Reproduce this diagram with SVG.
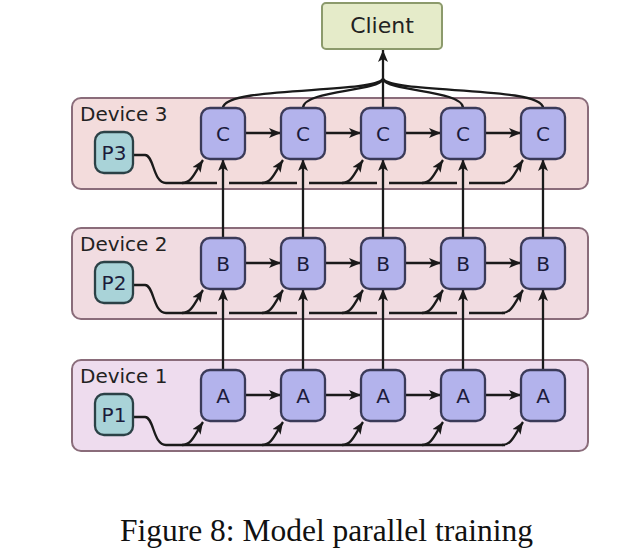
<svg xmlns="http://www.w3.org/2000/svg" width="640" height="556" viewBox="0 0 640 556">
<defs>
<marker id="ah" markerUnits="userSpaceOnUse" markerWidth="14" markerHeight="12" refX="12" refY="5" orient="auto">
<path d="M0,0 L12,5 L0,10 L3,5 z" fill="#1a1a1a"/>
</marker>
<style>
.panel{stroke:#8a6c7a;stroke-width:2}
.node rect{fill:#b3b3ec;stroke:#3a3a58;stroke-width:2.3}
.p rect{fill:#a9d3d8;stroke:#2b4146;stroke-width:2.3}
.lbl{font-family:"DejaVu Sans",sans-serif;font-size:20px;fill:#222}
.nt{font-family:"DejaVu Sans",sans-serif;font-size:20px;fill:#1c1c3c;text-anchor:middle}
.ln{fill:none;stroke:#1a1a1a;stroke-width:2.3}
.arr{fill:none;stroke:#1a1a1a;stroke-width:2.3;marker-end:url(#ah)}
</style>
</defs>
<rect width="640" height="556" fill="#ffffff"/>

<!-- panels -->
<g id="device3"><rect class="panel" x="72" y="98" width="516" height="91" rx="9" fill="#f3dcdc"/><text class="lbl" x="80" y="121">Device 3</text></g>
<g id="device2"><rect class="panel" x="72" y="228" width="516" height="91" rx="9" fill="#f1dce1"/><text class="lbl" x="80" y="251">Device 2</text></g>
<g id="device1"><rect class="panel" x="72" y="360" width="516" height="91" rx="9" fill="#eedcee"/><text class="lbl" x="80" y="383">Device 1</text></g>

<g id="connectors">
<!-- client fan-in -->
<path class="ln" d="M223 108 C223 86,372 94,383 79"/>
<path class="ln" d="M303 108 C303 90,378 92,383 79"/>
<path class="ln" d="M463 108 C463 90,388 92,383 79"/>
<path class="ln" d="M543 108 C543 86,394 94,383 79"/>
<path class="arr" d="M383 108 L383 50"/>

<!-- device 3 horizontal -->
<path class="arr" d="M245 133 L281 133"/>
<path class="arr" d="M325 133 L361 133"/>
<path class="arr" d="M405 133 L441 133"/>
<path class="arr" d="M485 133 L521 133"/>
<!-- device 2 horizontal -->
<path class="arr" d="M245 263 L281 263"/>
<path class="arr" d="M325 263 L361 263"/>
<path class="arr" d="M405 263 L441 263"/>
<path class="arr" d="M485 263 L521 263"/>
<!-- device 1 horizontal -->
<path class="arr" d="M245 395 L281 395"/>
<path class="arr" d="M325 395 L361 395"/>
<path class="arr" d="M405 395 L441 395"/>
<path class="arr" d="M485 395 L521 395"/>

<!-- device 3 param bus -->
<path class="ln" d="M133 155 L145 155 C154 155,153 183,166 183 L505 183"/>
<path class="arr" d="M182 183 C192 183,195 172,203 160"/>
<path class="arr" d="M262 183 C272 183,275 172,283 160"/>
<path class="arr" d="M342 183 C352 183,355 172,363 160"/>
<path class="arr" d="M422 183 C432 183,435 172,443 160"/>
<path class="arr" d="M502 183 C512 183,515 172,523 160"/>
<!-- device 2 param bus -->
<path class="ln" d="M133 285 L145 285 C154 285,153 313,166 313 L505 313"/>
<path class="arr" d="M182 313 C192 313,195 302,203 290"/>
<path class="arr" d="M262 313 C272 313,275 302,283 290"/>
<path class="arr" d="M342 313 C352 313,355 302,363 290"/>
<path class="arr" d="M422 313 C432 313,435 302,443 290"/>
<path class="arr" d="M502 313 C512 313,515 302,523 290"/>
<!-- device 1 param bus -->
<path class="ln" d="M133 417 L145 417 C154 417,153 445,166 445 L505 445"/>
<path class="arr" d="M182 445 C192 445,195 434,203 422"/>
<path class="arr" d="M262 445 C272 445,275 434,283 422"/>
<path class="arr" d="M342 445 C352 445,355 434,363 422"/>
<path class="arr" d="M422 445 C432 445,435 434,443 422"/>
<path class="arr" d="M502 445 C512 445,515 434,523 422"/>

<!-- gaps in buses where verticals cross -->
<g stroke="#f3dcdc" stroke-width="4.5">
<line x1="217" y1="183" x2="229" y2="183"/><line x1="297" y1="183" x2="309" y2="183"/><line x1="377" y1="183" x2="389" y2="183"/><line x1="457" y1="183" x2="469" y2="183"/><line x1="537" y1="183" x2="549" y2="183"/>
</g>
<g stroke="#f1dce1" stroke-width="4.5">
<line x1="217" y1="313" x2="229" y2="313"/><line x1="297" y1="313" x2="309" y2="313"/><line x1="377" y1="313" x2="389" y2="313"/><line x1="457" y1="313" x2="469" y2="313"/><line x1="537" y1="313" x2="549" y2="313"/>
</g>
<!-- verticals B->C -->
<path class="arr" d="M223 238 L223 159"/>
<path class="arr" d="M303 238 L303 159"/>
<path class="arr" d="M383 238 L383 159"/>
<path class="arr" d="M463 238 L463 159"/>
<path class="arr" d="M543 238 L543 159"/>
<!-- verticals A->B -->
<path class="arr" d="M223 370 L223 289"/>
<path class="arr" d="M303 370 L303 289"/>
<path class="arr" d="M383 370 L383 289"/>
<path class="arr" d="M463 370 L463 289"/>
<path class="arr" d="M543 370 L543 289"/>
</g>

<!-- client -->
<g id="client"><rect x="322" y="3" width="120" height="46" rx="4" fill="#e5ebc9" stroke="#8c9a6c" stroke-width="2"/><text x="382" y="33" font-family="DejaVu Sans, sans-serif" font-size="22" fill="#222" text-anchor="middle">Client</text></g>

<!-- P nodes -->
<g id="P3" class="p"><rect x="95" y="132" width="38" height="41" rx="9"/><text class="nt" x="114" y="160">P3</text></g>
<g id="P2" class="p"><rect x="95" y="262" width="38" height="41" rx="9"/><text class="nt" x="114" y="290">P2</text></g>
<g id="P1" class="p"><rect x="95" y="394" width="38" height="41" rx="9"/><text class="nt" x="114" y="422">P1</text></g>

<!-- C nodes -->
<g id="C1" class="node"><rect x="201" y="108" width="44" height="51" rx="9"/><text class="nt" x="223" y="141">C</text></g>
<g id="C2" class="node"><rect x="281" y="108" width="44" height="51" rx="9"/><text class="nt" x="303" y="141">C</text></g>
<g id="C3" class="node"><rect x="361" y="108" width="44" height="51" rx="9"/><text class="nt" x="383" y="141">C</text></g>
<g id="C4" class="node"><rect x="441" y="108" width="44" height="51" rx="9"/><text class="nt" x="463" y="141">C</text></g>
<g id="C5" class="node"><rect x="521" y="108" width="44" height="51" rx="9"/><text class="nt" x="543" y="141">C</text></g>
<!-- B nodes -->
<g id="B1" class="node"><rect x="201" y="238" width="44" height="51" rx="9"/><text class="nt" x="223" y="271">B</text></g>
<g id="B2" class="node"><rect x="281" y="238" width="44" height="51" rx="9"/><text class="nt" x="303" y="271">B</text></g>
<g id="B3" class="node"><rect x="361" y="238" width="44" height="51" rx="9"/><text class="nt" x="383" y="271">B</text></g>
<g id="B4" class="node"><rect x="441" y="238" width="44" height="51" rx="9"/><text class="nt" x="463" y="271">B</text></g>
<g id="B5" class="node"><rect x="521" y="238" width="44" height="51" rx="9"/><text class="nt" x="543" y="271">B</text></g>
<!-- A nodes -->
<g id="A1" class="node"><rect x="201" y="370" width="44" height="51" rx="9"/><text class="nt" x="223" y="403">A</text></g>
<g id="A2" class="node"><rect x="281" y="370" width="44" height="51" rx="9"/><text class="nt" x="303" y="403">A</text></g>
<g id="A3" class="node"><rect x="361" y="370" width="44" height="51" rx="9"/><text class="nt" x="383" y="403">A</text></g>
<g id="A4" class="node"><rect x="441" y="370" width="44" height="51" rx="9"/><text class="nt" x="463" y="403">A</text></g>
<g id="A5" class="node"><rect x="521" y="370" width="44" height="51" rx="9"/><text class="nt" x="543" y="403">A</text></g>

<text x="120" y="541" font-family="Liberation Serif, serif" font-size="31.5" fill="#111">Figure 8: Model parallel training</text>
</svg>
